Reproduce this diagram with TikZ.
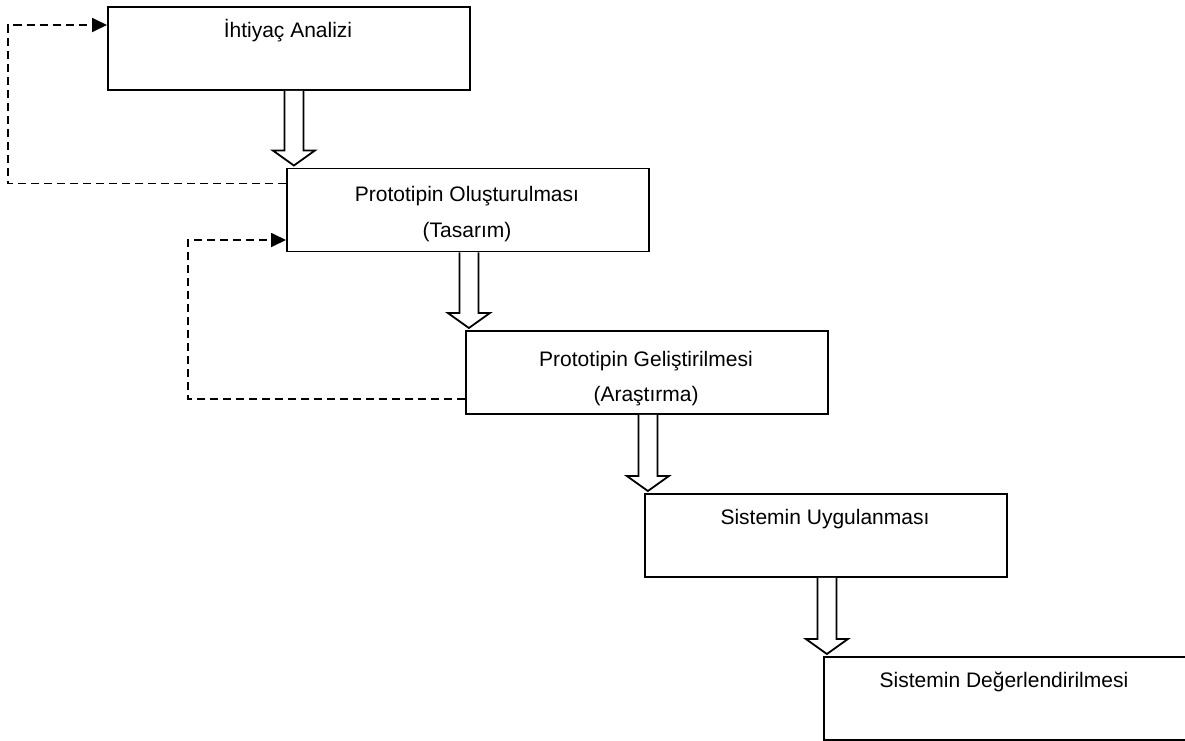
\documentclass[tikz,border=0pt]{standalone}
\usepackage{fontspec}
\setmainfont{Liberation Sans}
\usetikzlibrary{calc,arrows.meta}

% Draws a hollow block arrow from the bottom of box #1 down to box #2,
% its axis shifted by #3 from the centre of box #1.
\newcommand\blockarrow[3]{%
  \coordinate (#1top) at ($(#1.south)+(#3,0)$);
  \coordinate (#1tip) at ($(#1top |- #2.north)+(0,-2)$);
  \draw[blk] ($(#1top)+(-9.5,0)$) -- ($(#1tip)+(-9.5,-15)$)
    -- ($(#1tip)+(-21,-15)$) -- (#1tip) -- ($(#1tip)+(21,-15)$)
    -- ($(#1tip)+(9.5,-15)$) -- ($(#1top)+(9.5,0)$);
}

\begin{document}
\begin{tikzpicture}[x=1pt,y=-1pt,
  box/.style={draw=black, line width=1.8pt, minimum width=362pt,
    minimum height=83pt, inner sep=0pt, anchor=north west},
  txt/.style={anchor=base, inner sep=0pt,
    font=\fontsize{21pt}{25pt}\selectfont},
  blk/.style={draw=black, fill=white, line width=1.8pt, line join=miter},
  fb/.style={draw=black, line width=1.8pt, dash pattern=on 8pt off 5pt,
    -{Triangle[length=15pt,width=14pt]}},
]
\useasboundingbox (0,0) rectangle (1185,740);

% process steps
\node[box] (b1) at (107,6) {};
\node[box] (b2) at (286,167.5) {};
\node[box] (b3) at (465,330) {};
\node[box] (b4) at (644,493) {};
\node[box, minimum width=372pt] (b5) at (823,656) {};

% step labels
\node[txt] (t1) at ($(b1.north west)+(181,31)$) {İhtiyaç Analizi};
\node[txt] (t2a) at ($(b2.north west)+(181,33.5)$) {Prototipin Oluşturulması};
\node[txt] (t2b) at ($(b2.north west)+(181,69.5)$) {(Tasarım)};
\node[txt] (t3a) at ($(b3.north west)+(181,36)$) {Prototipin Geliştirilmesi};
\node[txt] (t3b) at ($(b3.north west)+(181,71)$) {(Araştırma)};
\node[txt] (t4) at ($(b4.north west)+(181,31)$) {Sistemin Uygulanması};
\node[txt] (t5) at ($(b5.north west)+(181,31)$) {Sistemin Değerlendirilmesi};

% forward flow
\blockarrow{b1}{b2}{5}
\blockarrow{b2}{b3}{1}
\blockarrow{b3}{b4}{1}
\blockarrow{b4}{b5}{1}

% feedback loops
\coordinate (f1s) at ($(b2.north west)+(0,16)$);
\coordinate (f1e) at ($(b1.north west)+(0,19)$);
\draw[fb] (f1s) -- ++(-278,0) |- (f1e);

\coordinate (f2s) at ($(b3.north west)+(0,69)$);
\coordinate (f2e) at ($(b2.north west)+(0,72.5)$);
\draw[fb] (f2s) -- ++(-277,0) |- (f2e);
\end{tikzpicture}
\end{document}
